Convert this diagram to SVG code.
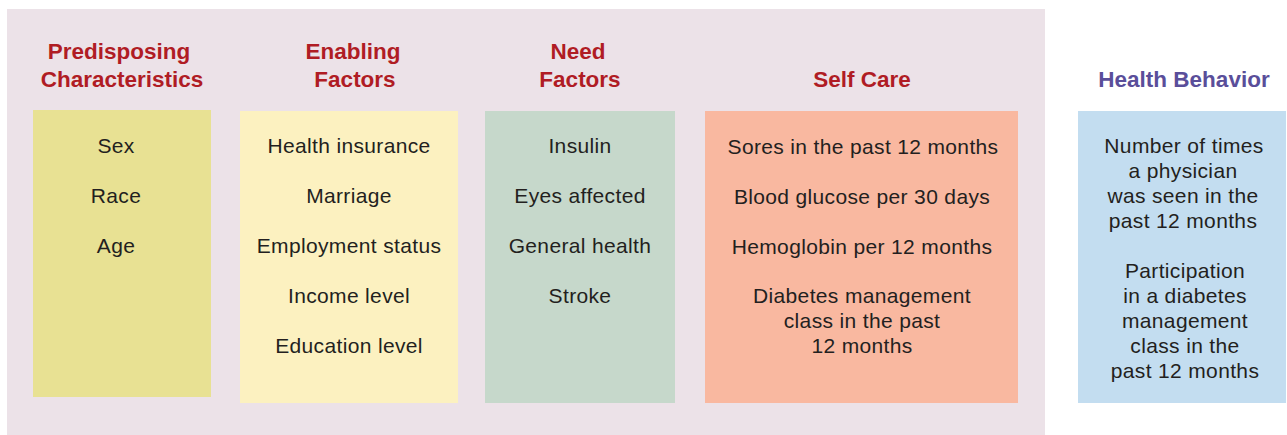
<svg xmlns="http://www.w3.org/2000/svg" width="1287" height="435" viewBox="0 0 1287 435">
<style>
.hd{font-family:"Liberation Sans",Arial,sans-serif;font-weight:bold;font-size:22.5px;fill:#b01c24;text-anchor:middle}
.hb{fill:#5a4e9a}
.tx{font-family:"Liberation Sans",Arial,sans-serif;font-size:21px;fill:#231f20;text-anchor:middle;letter-spacing:0.35px}
</style>
<rect x="0" y="0" width="1287" height="435" fill="#ffffff"/>
<rect id="panel" x="7" y="9" width="1038" height="426" fill="#ece2e8"/>
<g id="predisposing">
<text class="hd" x="119" y="59">Predisposing</text>
<text class="hd" x="122" y="87">Characteristics</text>
<rect x="33" y="110" width="178" height="287" fill="#e8e193"/>
<text class="tx" x="116" y="153">Sex</text>
<text class="tx" x="116" y="203">Race</text>
<text class="tx" x="116" y="253">Age</text>
</g>
<g id="enabling">
<text class="hd" x="353" y="59">Enabling</text>
<text class="hd" x="355" y="87">Factors</text>
<rect x="240" y="111" width="218" height="292" fill="#fcf1c0"/>
<text class="tx" x="349" y="153">Health insurance</text>
<text class="tx" x="349" y="203">Marriage</text>
<text class="tx" x="349" y="253">Employment status</text>
<text class="tx" x="349" y="303">Income level</text>
<text class="tx" x="349" y="353">Education level</text>
</g>
<g id="need">
<text class="hd" x="578" y="59">Need</text>
<text class="hd" x="580" y="87">Factors</text>
<rect x="485" y="111" width="190" height="292" fill="#c6d8cb"/>
<text class="tx" x="580" y="153">Insulin</text>
<text class="tx" x="580" y="203">Eyes affected</text>
<text class="tx" x="580" y="253">General health</text>
<text class="tx" x="580" y="303">Stroke</text>
</g>
<g id="selfcare">
<text class="hd" x="862" y="87">Self Care</text>
<rect x="705" y="111" width="313" height="292" fill="#f9b8a0"/>
<text class="tx" x="863" y="154">Sores in the past 12 months</text>
<text class="tx" x="862" y="204">Blood glucose per 30 days</text>
<text class="tx" x="862" y="254">Hemoglobin per 12 months</text>
<text class="tx" x="862" y="303">Diabetes management</text>
<text class="tx" x="862" y="328">class in the past</text>
<text class="tx" x="862" y="353">12 months</text>
</g>
<g id="behavior">
<text class="hd hb" x="1184" y="87">Health Behavior</text>
<rect x="1078" y="111" width="208" height="292" fill="#c3ddf0"/>
<text class="tx" x="1184" y="153">Number of times</text>
<text class="tx" x="1183" y="178">a physician</text>
<text class="tx" x="1183" y="203">was seen in the</text>
<text class="tx" x="1183" y="228">past 12 months</text>
<text class="tx" x="1185" y="278">Participation</text>
<text class="tx" x="1185" y="303">in a diabetes</text>
<text class="tx" x="1185" y="328">management</text>
<text class="tx" x="1185" y="353">class in the</text>
<text class="tx" x="1185" y="378">past 12 months</text>
</g>
<g id="connectors"></g>
</svg>
